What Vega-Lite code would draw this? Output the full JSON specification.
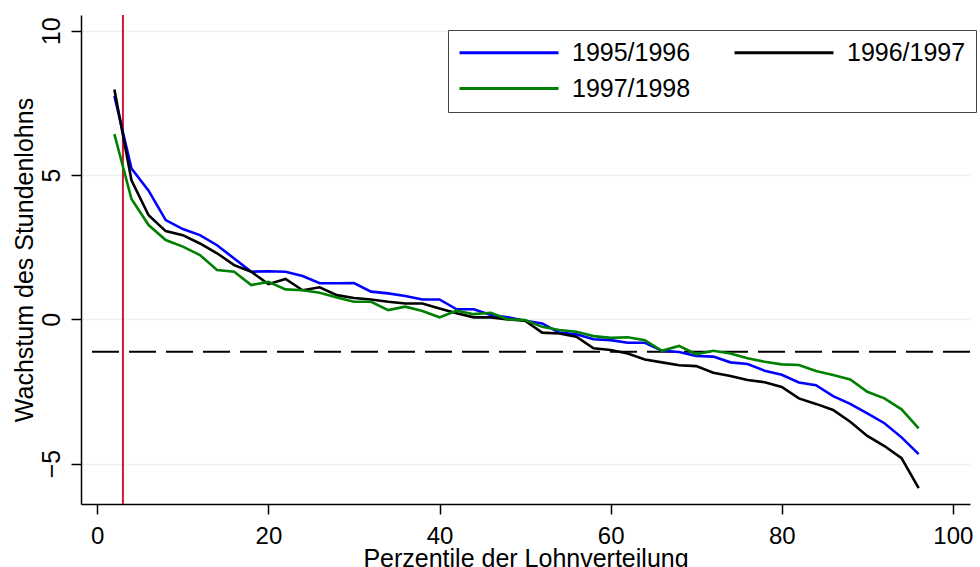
{
  "$schema": "https://vega.github.io/schema/vega-lite/v6.json",
  "width": 889,
  "height": 489,
  "autosize": {"type": "none"},
  "padding": {"left": 81, "top": 15, "right": 10, "bottom": 63},
  "background": "white",
  "config": {
    "font": "Liberation Sans",
    "view": {"stroke": null},
    "axis": {"labelFont": "Liberation Sans", "titleFont": "Liberation Sans", "labelColor": "#000", "titleColor": "#000", "titleFontWeight": "normal", "domainColor": "#000", "domainWidth": 1.5, "tickColor": "#000", "tickWidth": 1.5, "tickSize": 10, "gridColor": "#EAF2F3", "gridWidth": 1.5}
  },
  "datasets": {
    "curves": [
      {"p": 2, "s": "1995/1996", "v": 7.74}, {"p": 4, "s": "1995/1996", "v": 5.23}, {"p": 6, "s": "1995/1996", "v": 4.46}, {"p": 8, "s": "1995/1996", "v": 3.44}, {"p": 10, "s": "1995/1996", "v": 3.13}, {"p": 12, "s": "1995/1996", "v": 2.92}, {"p": 14, "s": "1995/1996", "v": 2.57}, {"p": 16, "s": "1995/1996", "v": 2.11}, {"p": 18, "s": "1995/1996", "v": 1.65}, {"p": 20, "s": "1995/1996", "v": 1.67}, {"p": 22, "s": "1995/1996", "v": 1.65}, {"p": 24, "s": "1995/1996", "v": 1.5}, {"p": 26, "s": "1995/1996", "v": 1.25}, {"p": 28, "s": "1995/1996", "v": 1.25}, {"p": 30, "s": "1995/1996", "v": 1.26}, {"p": 32, "s": "1995/1996", "v": 0.96}, {"p": 34, "s": "1995/1996", "v": 0.9}, {"p": 36, "s": "1995/1996", "v": 0.81}, {"p": 38, "s": "1995/1996", "v": 0.69}, {"p": 40, "s": "1995/1996", "v": 0.69}, {"p": 42, "s": "1995/1996", "v": 0.35}, {"p": 44, "s": "1995/1996", "v": 0.35}, {"p": 46, "s": "1995/1996", "v": 0.15}, {"p": 48, "s": "1995/1996", "v": 0.07}, {"p": 50, "s": "1995/1996", "v": -0.05}, {"p": 52, "s": "1995/1996", "v": -0.14}, {"p": 54, "s": "1995/1996", "v": -0.46}, {"p": 56, "s": "1995/1996", "v": -0.52}, {"p": 58, "s": "1995/1996", "v": -0.69}, {"p": 60, "s": "1995/1996", "v": -0.72}, {"p": 62, "s": "1995/1996", "v": -0.81}, {"p": 64, "s": "1995/1996", "v": -0.81}, {"p": 66, "s": "1995/1996", "v": -1.09}, {"p": 68, "s": "1995/1996", "v": -1.13}, {"p": 70, "s": "1995/1996", "v": -1.27}, {"p": 72, "s": "1995/1996", "v": -1.29}, {"p": 74, "s": "1995/1996", "v": -1.49}, {"p": 76, "s": "1995/1996", "v": -1.55}, {"p": 78, "s": "1995/1996", "v": -1.78}, {"p": 80, "s": "1995/1996", "v": -1.92}, {"p": 82, "s": "1995/1996", "v": -2.19}, {"p": 84, "s": "1995/1996", "v": -2.28}, {"p": 86, "s": "1995/1996", "v": -2.66}, {"p": 88, "s": "1995/1996", "v": -2.93}, {"p": 90, "s": "1995/1996", "v": -3.26}, {"p": 92, "s": "1995/1996", "v": -3.6}, {"p": 94, "s": "1995/1996", "v": -4.09}, {"p": 96, "s": "1995/1996", "v": -4.67},
      {"p": 2, "s": "1996/1997", "v": 7.97}, {"p": 4, "s": "1996/1997", "v": 4.82}, {"p": 6, "s": "1996/1997", "v": 3.61}, {"p": 8, "s": "1996/1997", "v": 3.06}, {"p": 10, "s": "1996/1997", "v": 2.92}, {"p": 12, "s": "1996/1997", "v": 2.63}, {"p": 14, "s": "1996/1997", "v": 2.29}, {"p": 16, "s": "1996/1997", "v": 1.88}, {"p": 18, "s": "1996/1997", "v": 1.65}, {"p": 20, "s": "1996/1997", "v": 1.22}, {"p": 22, "s": "1996/1997", "v": 1.4}, {"p": 24, "s": "1996/1997", "v": 1.01}, {"p": 26, "s": "1996/1997", "v": 1.11}, {"p": 28, "s": "1996/1997", "v": 0.84}, {"p": 30, "s": "1996/1997", "v": 0.74}, {"p": 32, "s": "1996/1997", "v": 0.69}, {"p": 34, "s": "1996/1997", "v": 0.61}, {"p": 36, "s": "1996/1997", "v": 0.55}, {"p": 38, "s": "1996/1997", "v": 0.55}, {"p": 40, "s": "1996/1997", "v": 0.38}, {"p": 42, "s": "1996/1997", "v": 0.21}, {"p": 44, "s": "1996/1997", "v": 0.07}, {"p": 46, "s": "1996/1997", "v": 0.07}, {"p": 48, "s": "1996/1997", "v": 0.0}, {"p": 50, "s": "1996/1997", "v": -0.05}, {"p": 52, "s": "1996/1997", "v": -0.46}, {"p": 54, "s": "1996/1997", "v": -0.49}, {"p": 56, "s": "1996/1997", "v": -0.6}, {"p": 58, "s": "1996/1997", "v": -1.0}, {"p": 60, "s": "1996/1997", "v": -1.06}, {"p": 62, "s": "1996/1997", "v": -1.18}, {"p": 64, "s": "1996/1997", "v": -1.39}, {"p": 66, "s": "1996/1997", "v": -1.49}, {"p": 68, "s": "1996/1997", "v": -1.59}, {"p": 70, "s": "1996/1997", "v": -1.62}, {"p": 72, "s": "1996/1997", "v": -1.85}, {"p": 74, "s": "1996/1997", "v": -1.96}, {"p": 76, "s": "1996/1997", "v": -2.1}, {"p": 78, "s": "1996/1997", "v": -2.18}, {"p": 80, "s": "1996/1997", "v": -2.34}, {"p": 82, "s": "1996/1997", "v": -2.74}, {"p": 84, "s": "1996/1997", "v": -2.93}, {"p": 86, "s": "1996/1997", "v": -3.14}, {"p": 88, "s": "1996/1997", "v": -3.55}, {"p": 90, "s": "1996/1997", "v": -4.04}, {"p": 92, "s": "1996/1997", "v": -4.39}, {"p": 94, "s": "1996/1997", "v": -4.81}, {"p": 96, "s": "1996/1997", "v": -5.85},
      {"p": 2, "s": "1997/1998", "v": 6.42}, {"p": 4, "s": "1997/1998", "v": 4.17}, {"p": 6, "s": "1997/1998", "v": 3.27}, {"p": 8, "s": "1997/1998", "v": 2.75}, {"p": 10, "s": "1997/1998", "v": 2.52}, {"p": 12, "s": "1997/1998", "v": 2.23}, {"p": 14, "s": "1997/1998", "v": 1.71}, {"p": 16, "s": "1997/1998", "v": 1.65}, {"p": 18, "s": "1997/1998", "v": 1.19}, {"p": 20, "s": "1997/1998", "v": 1.3}, {"p": 22, "s": "1997/1998", "v": 1.04}, {"p": 24, "s": "1997/1998", "v": 1.01}, {"p": 26, "s": "1997/1998", "v": 0.92}, {"p": 28, "s": "1997/1998", "v": 0.76}, {"p": 30, "s": "1997/1998", "v": 0.61}, {"p": 32, "s": "1997/1998", "v": 0.61}, {"p": 34, "s": "1997/1998", "v": 0.32}, {"p": 36, "s": "1997/1998", "v": 0.44}, {"p": 38, "s": "1997/1998", "v": 0.29}, {"p": 40, "s": "1997/1998", "v": 0.07}, {"p": 42, "s": "1997/1998", "v": 0.3}, {"p": 44, "s": "1997/1998", "v": 0.18}, {"p": 46, "s": "1997/1998", "v": 0.23}, {"p": 48, "s": "1997/1998", "v": 0.0}, {"p": 50, "s": "1997/1998", "v": -0.02}, {"p": 52, "s": "1997/1998", "v": -0.26}, {"p": 54, "s": "1997/1998", "v": -0.37}, {"p": 56, "s": "1997/1998", "v": -0.43}, {"p": 58, "s": "1997/1998", "v": -0.58}, {"p": 60, "s": "1997/1998", "v": -0.64}, {"p": 62, "s": "1997/1998", "v": -0.62}, {"p": 64, "s": "1997/1998", "v": -0.72}, {"p": 66, "s": "1997/1998", "v": -1.09}, {"p": 68, "s": "1997/1998", "v": -0.92}, {"p": 70, "s": "1997/1998", "v": -1.21}, {"p": 72, "s": "1997/1998", "v": -1.09}, {"p": 74, "s": "1997/1998", "v": -1.18}, {"p": 76, "s": "1997/1998", "v": -1.35}, {"p": 78, "s": "1997/1998", "v": -1.47}, {"p": 80, "s": "1997/1998", "v": -1.56}, {"p": 82, "s": "1997/1998", "v": -1.58}, {"p": 84, "s": "1997/1998", "v": -1.79}, {"p": 86, "s": "1997/1998", "v": -1.93}, {"p": 88, "s": "1997/1998", "v": -2.08}, {"p": 90, "s": "1997/1998", "v": -2.51}, {"p": 92, "s": "1997/1998", "v": -2.74}, {"p": 94, "s": "1997/1998", "v": -3.12}, {"p": 96, "s": "1997/1998", "v": -3.78}
    ]
  },
  "layer": [
    {
      "data": {"values": [{"y": -1.12}]},
      "mark": {"type": "rule", "color": "#000", "strokeWidth": 2, "strokeDash": [27, 10]},
      "encoding": {"y": {"field": "y", "type": "quantitative", "scale": {"domain": [-6.4, 10.55], "nice": false, "zero": false}}}
    },
    {
      "data": {"values": [{"x": 3}]},
      "mark": {"type": "rule", "color": "#D2143C", "strokeWidth": 2},
      "encoding": {"x": {"field": "x", "type": "quantitative", "scale": {"domain": [-1.9, 102], "nice": false, "zero": false}}}
    },
    {
      "data": {"name": "curves"},
      "mark": {"type": "line", "strokeWidth": 2.6, "interpolate": "linear"},
      "encoding": {
        "x": {"field": "p", "type": "quantitative", "scale": {"domain": [-1.9, 102], "nice": false, "zero": false},
          "axis": {"values": [0, 20, 40, 60, 80, 100], "grid": false, "title": "Perzentile der Lohnverteilung", "labelFontSize": 24, "labelBaseline": "alphabetic", "labelPadding": 29, "titleFontSize": 25, "titleBaseline": "alphabetic", "titleY": 62, "labelFlush": false}},
        "y": {"field": "v", "type": "quantitative", "scale": {"domain": [-6.4, 10.55], "nice": false, "zero": false},
          "axis": {"values": [-5, 0, 5, 10], "grid": true, "title": "Wachstum des Stundenlohns", "labelAngle": -90, "labelAlign": "center", "labelBaseline": "alphabetic", "labelPadding": 12, "labelFontSize": 25, "titleFontSize": 25, "titleAngle": -90, "titleBaseline": "alphabetic", "titleX": -49, "titleY": 244.5, "labelFlush": false}},
        "color": {"field": "s", "type": "nominal", "title": null,
          "scale": {"domain": ["1995/1996", "1996/1997", "1997/1998"], "range": ["#0000FF", "#000000", "#008000"]},
          "legend": {"orient": "none", "legendX": 367, "legendY": 15, "columns": 2, "direction": "horizontal", "symbolType": "stroke", "symbolSize": 9801, "symbolStrokeWidth": 3, "clipHeight": 25, "labelFontSize": 25, "labelFont": "Liberation Sans", "labelColor": "#000", "labelOffset": 12, "columnPadding": 42, "rowPadding": 10, "padding": 10, "strokeColor": "#444", "fillColor": "white", "labelLimit": 300}}
      }
    }
  ]
}
